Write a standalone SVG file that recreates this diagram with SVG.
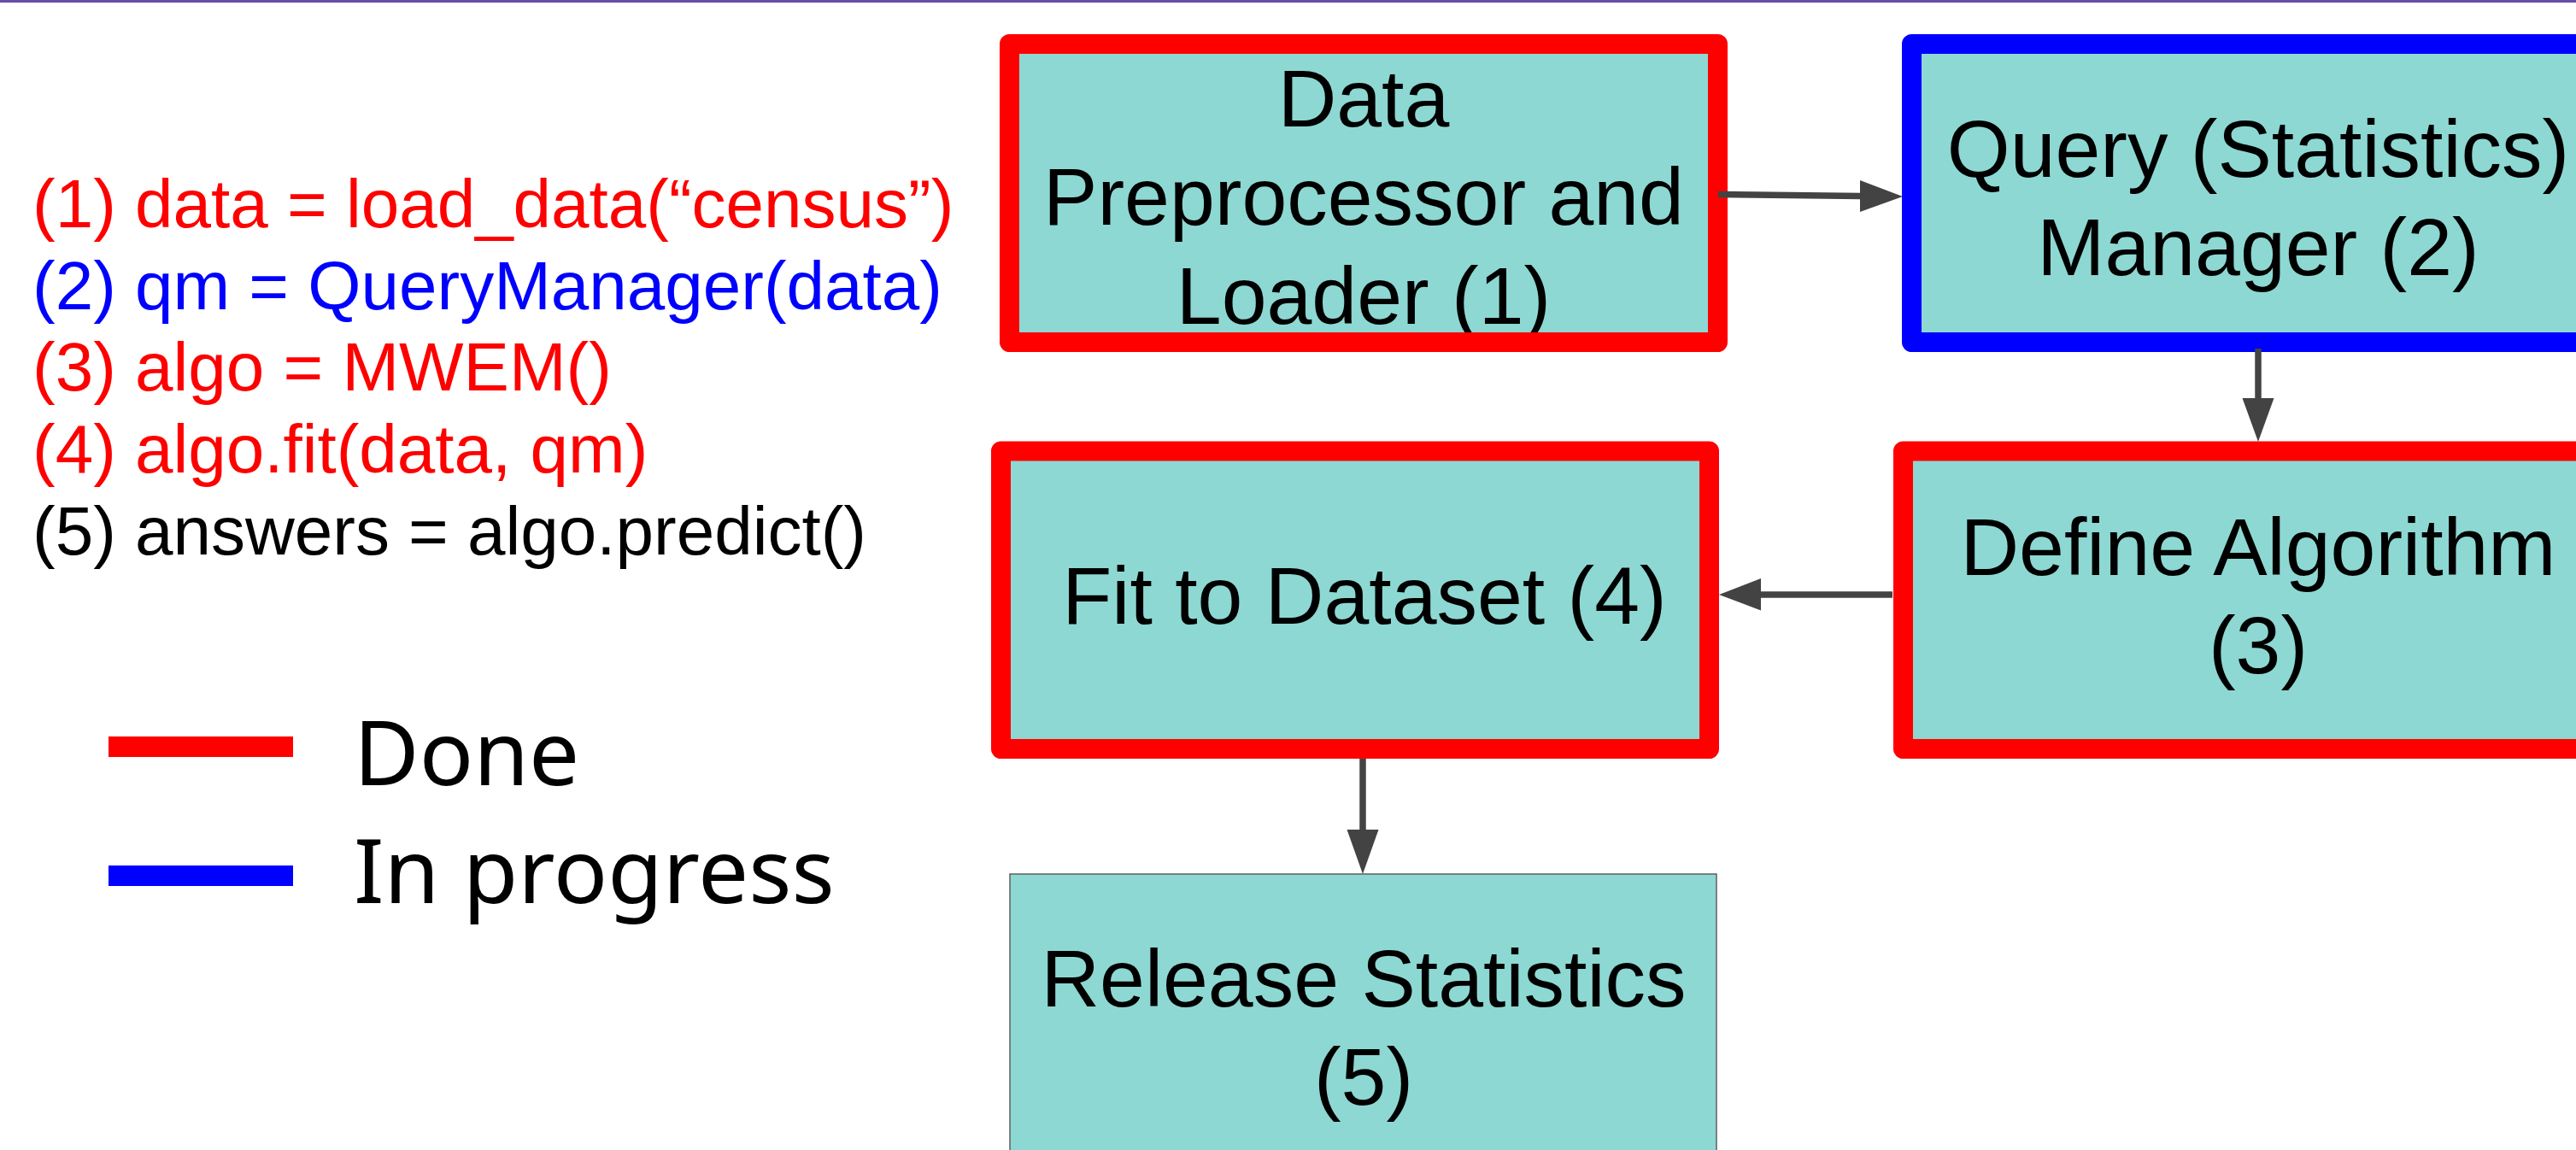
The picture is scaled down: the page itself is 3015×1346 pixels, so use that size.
<svg xmlns="http://www.w3.org/2000/svg" width="3015" height="1346" viewBox="0 0 3015 1346">
<style>
.fill{fill:#8dd8d3;stroke:none}
.done{fill:none;stroke:#ff0000;stroke-width:23;stroke-linejoin:round}
.prog{fill:none;stroke:#0000ff;stroke-width:23;stroke-linejoin:round}
.lbl{font-family:"Liberation Sans",Arial,sans-serif;font-size:95px;fill:#000;text-anchor:middle}
.code{font-family:"Liberation Sans",Arial,sans-serif;font-size:80px}
.leg{font-family:"Noto Sans","Open Sans",sans-serif;font-size:105px;fill:#000}
.conn{stroke:#434343;stroke-width:7.5;fill:none}
.head{fill:#434343}
</style>
<defs>
<clipPath id="c1"><rect x="1193" y="63" width="805" height="326"/></clipPath>
</defs>
<rect x="0" y="0" width="3015" height="3" fill="#674ea7"/>

<g id="code">
<text class="code" x="38" y="266" fill="#ff0000">(1) data = load_data(“census”)</text>
<text class="code" x="38" y="362" fill="#0000ff">(2) qm = QueryManager(data)</text>
<text class="code" x="38" y="457" fill="#ff0000">(3) algo = MWEM()</text>
<text class="code" x="38" y="553" fill="#ff0000">(4) algo.fit(data, qm)</text>
<text class="code" x="38" y="649" fill="#000000">(5) answers = algo.predict()</text>
</g>

<g id="legend">
<rect x="127" y="862" width="216" height="24" fill="#ff0000"/>
<rect x="127" y="1013" width="216" height="24" fill="#0000ff"/>
<text class="leg" x="414" y="919">Done</text>
<text class="leg" x="414" y="1057">In progress</text>
</g>

<g id="node1">
<rect class="fill" x="1181.5" y="51.5" width="829" height="349"/>
<g clip-path="url(#c1)">
<text class="lbl" x="1596" y="148">Data</text>
<text class="lbl" x="1596" y="263">Preprocessor and</text>
<text class="lbl" x="1596" y="379">Loader (1)</text>
</g>
<rect class="done" x="1181.5" y="51.5" width="829" height="349"/>
</g>

<g id="node2">
<rect class="fill" x="2237.5" y="51.5" width="811" height="349"/>
<text class="lbl" x="2643" y="207">Query (Statistics)</text>
<text class="lbl" x="2643" y="322">Manager (2)</text>
<rect class="prog" x="2237.5" y="51.5" width="811" height="349"/>
</g>

<g id="node3">
<rect class="fill" x="2227.5" y="528" width="830" height="348.5"/>
<text class="lbl" x="2643" y="673">Define Algorithm</text>
<text class="lbl" x="2643" y="788">(3)</text>
<rect class="done" x="2227.5" y="528" width="830" height="348.5"/>
</g>

<g id="node4">
<rect class="fill" x="1171.5" y="528" width="829" height="348.5"/>
<text class="lbl" x="1597" y="730">Fit to Dataset (4)</text>
<rect class="done" x="1171.5" y="528" width="829" height="348.5"/>
</g>

<g id="node5">
<rect x="1182" y="1023" width="827" height="340" fill="#8dd8d3" stroke="#5f5f5f" stroke-width="1.5"/>
<text class="lbl" x="1596" y="1178">Release Statistics</text>
<text class="lbl" x="1596" y="1293">(5)</text>
</g>

<g id="connectors">
<line class="conn" x1="2011" y1="227.5" x2="2178" y2="229.5"/>
<polygon class="head" points="2227,230 2177,211 2177,248"/>
<line class="conn" x1="2643" y1="408" x2="2643" y2="467"/>
<polygon class="head" points="2643,517 2624.5,466 2661.5,466"/>
<line class="conn" x1="2215" y1="696" x2="2060" y2="696"/>
<polygon class="head" points="2012,696 2061,677 2061,714.5"/>
<line class="conn" x1="1595" y1="888" x2="1595" y2="972"/>
<polygon class="head" points="1595,1023 1576.5,971 1613.5,971"/>
</g>
</svg>
